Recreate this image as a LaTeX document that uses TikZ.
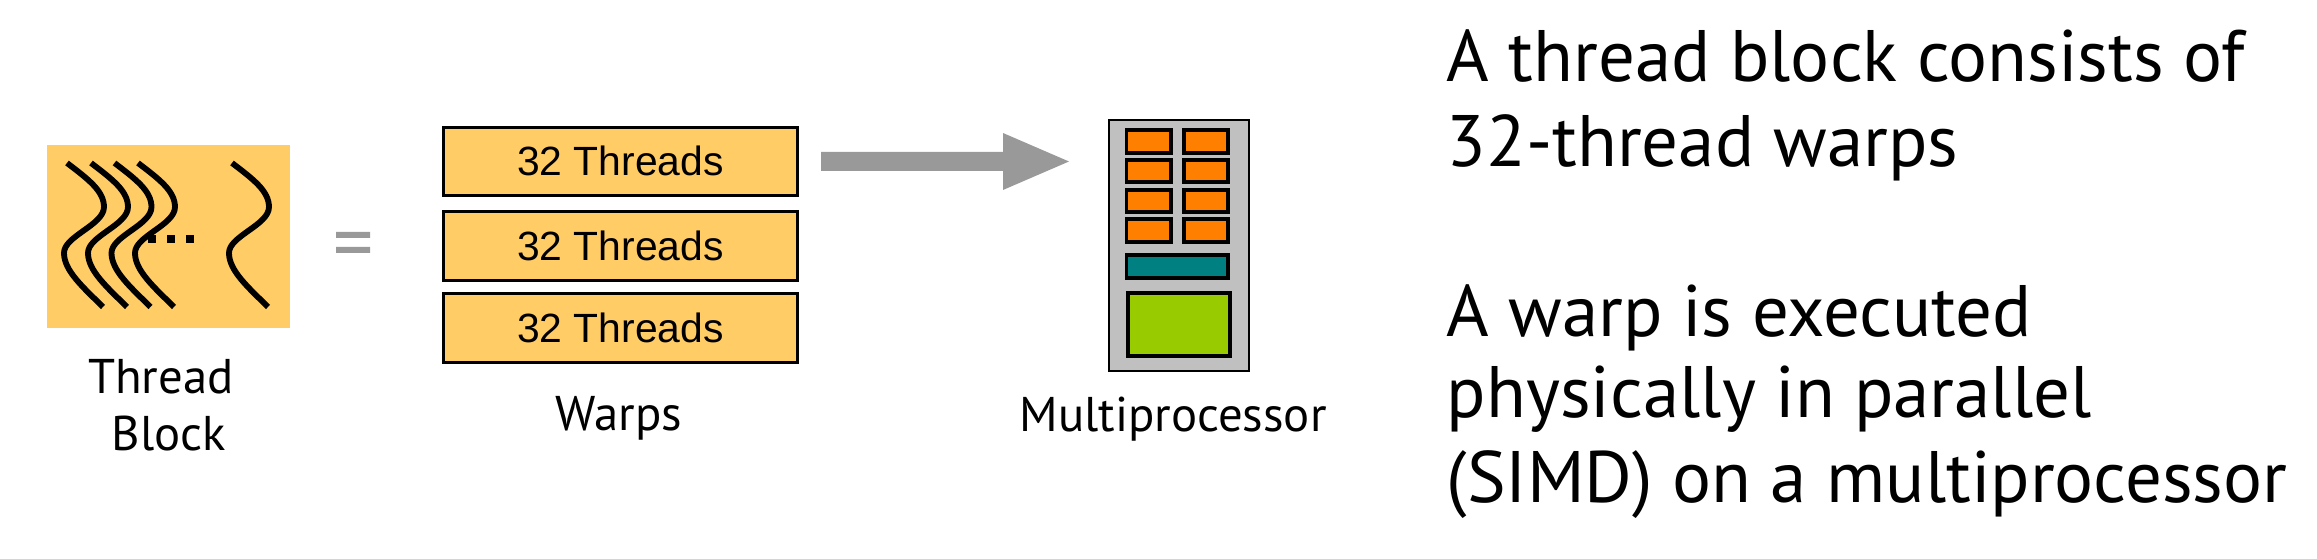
\documentclass[tikz,border=0pt]{standalone}
\usepackage{fontspec}
\setmainfont{PT Sans}
\newfontfamily\arialf{Liberation Sans}
\definecolor{threadfill}{HTML}{FFCC66}
\definecolor{arrowgrey}{HTML}{999999}
\definecolor{mpgrey}{HTML}{C0C0C0}
\definecolor{coreor}{HTML}{FF8000}
\definecolor{tealbar}{HTML}{008080}
\definecolor{limebox}{HTML}{99CC00}
\tikzset{
  x=0.24pt,y=-0.24pt,
  lbl/.style={inner sep=0pt,font=\fontsize{11.7pt}{14pt}\selectfont,text=black},
  bigtext/.style={inner sep=0pt,anchor=base west,font=\fontsize{17.5pt}{21pt}\selectfont,text=black},
  warp/.style={draw=black,fill=threadfill,line width=0.65pt,inner sep=0pt,font=\arialf\fontsize{9.8pt}{11pt}\selectfont},
  corebox/.style={draw=black,line width=0.75pt,fill=coreor},
  threadline/.style={draw=black,line width=1.4pt},
}
\newcommand{\threadcurve}[1]{%
  \draw[threadline,xshift=#1*0.24pt] (67,163) .. controls (88,179) and (104,191) .. (104,207)
    .. controls (104,225) and (64,236) .. (64,253)
    .. controls (64,271) and (84,288) .. (103,307);}
\begin{document}
\begin{tikzpicture}
\useasboundingbox (0,0) rectangle (2317,559);
\fill[threadfill] (47,145) rectangle (290,328);
\threadcurve{0}\threadcurve{24}\threadcurve{47.5}\threadcurve{71}\threadcurve{165}
\foreach \dx in {152,171,190} \fill (\dx-4,235) rectangle (\dx+4,243);
\node[lbl,anchor=base] (tb1) at (161,394) {Thread};
\node[lbl,anchor=base] (tb2) at (169,451) {Block};
\fill[arrowgrey] (336,232) rectangle (370,238) (336,247) rectangle (370,253);
\foreach \n/\a/\b in {a/126/194,b/210/279,c/292/361}
  \node[warp,minimum width=354*0.24pt,minimum height={(\b-\a)*0.24pt},anchor=north west] (w\n) at (442,\a) {32 Threads};
\node[lbl,anchor=base] (wl) at (619,431) {Warps};
\fill[arrowgrey] (821,152) -- (1003,152) -- (1003,133) -- (1069,161.5) -- (1003,190) -- (1003,171) -- (821,171) -- cycle;
\draw[black,line width=0.7pt,fill=mpgrey] (1109,120) rectangle (1249,371);
\foreach \a/\b in {130/153,160/182,190/212,219/242}{
  \draw[corebox] (1126.5,\a) rectangle (1171,\b);
  \draw[corebox] (1184,\a) rectangle (1228,\b);
}
\draw[black,line width=0.75pt,fill=tealbar] (1126.5,255) rectangle (1228,278);
\draw[black,line width=0.75pt,fill=limebox] (1128,293) rectangle (1230,356);
\node[lbl,anchor=base] (ml) at (1173,432) {Multiprocessor};
\node[bigtext] (t1) at (1446,82) {A thread block consists of};
\node[bigtext] (t2) at (1446,167) {32-thread warps};
\node[bigtext] (t3) at (1446,337) {A warp is executed};
\node[bigtext] (t4) at (1446,418) {physically in parallel};
\node[bigtext] (t5) at (1446,503) {(SIMD) on a multiprocessor};
\end{tikzpicture}
\end{document}
